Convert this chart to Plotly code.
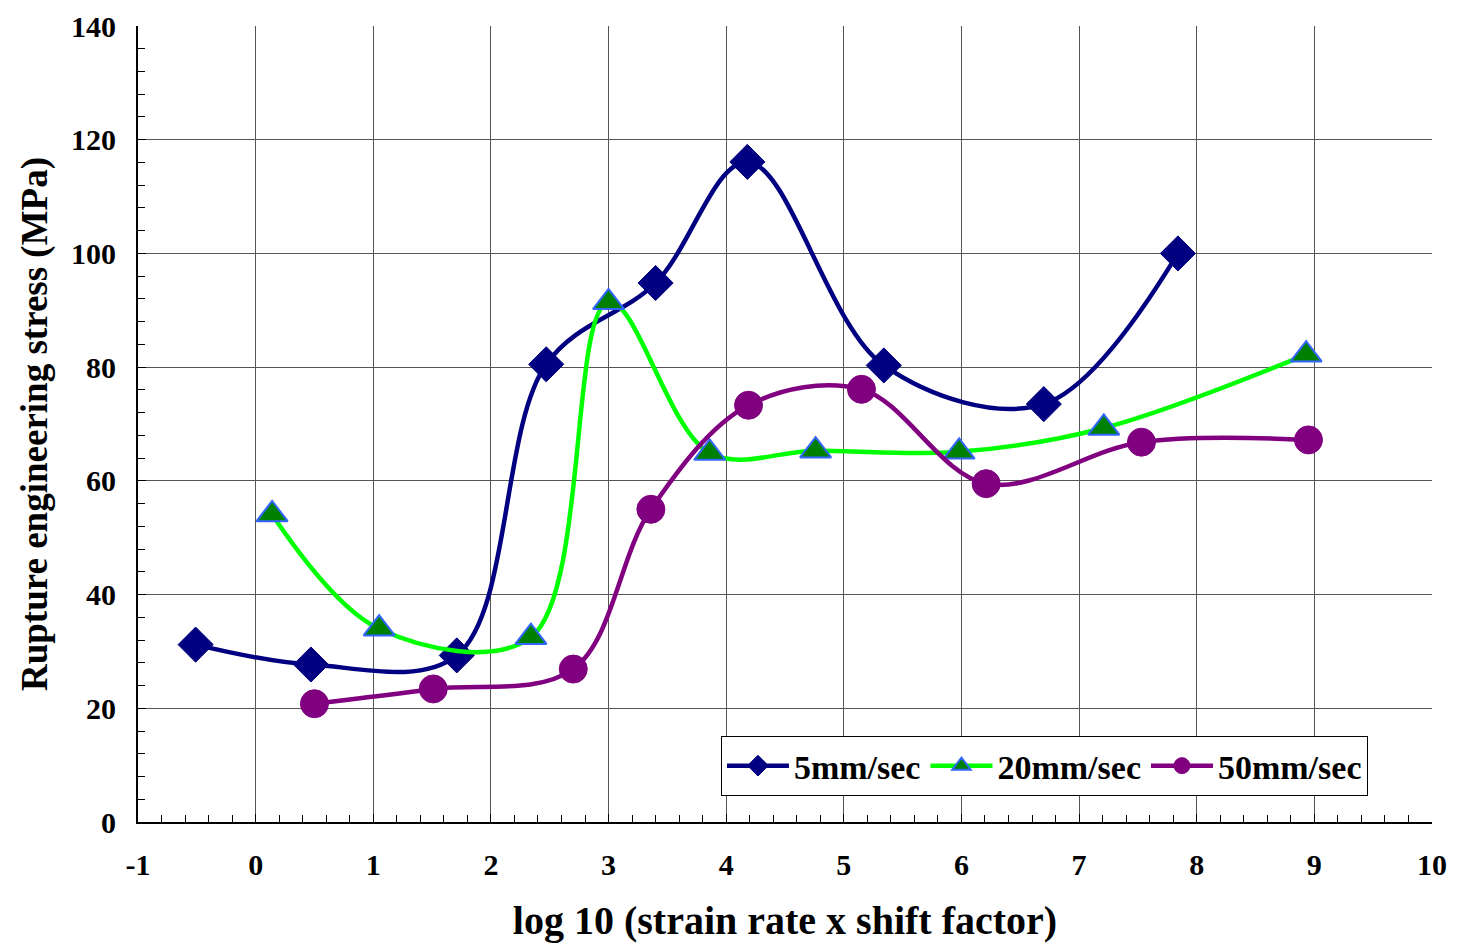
import plotly.graph_objects as go

x5 = [-0.51, 0.47, 1.71, 2.47, 3.40, 4.18, 5.34, 6.70, 7.84]
y5 = [31.2, 27.7, 29.3, 80.5, 94.8, 116.1, 80.3, 73.5, 100.0]

x20 = [0.14, 1.05, 2.34, 3.00, 3.86, 4.76, 5.98, 7.21, 8.93]
y20 = [54.1, 34.0, 32.5, 91.4, 64.9, 65.3, 65.1, 69.3, 82.2]

x50 = [0.50, 1.51, 2.70, 3.36, 4.19, 5.15, 6.21, 7.53, 8.95]
y50 = [20.8, 23.4, 26.9, 55.0, 73.3, 76.1, 59.5, 66.8, 67.2]

xticks = [-1, 0, 1, 2, 3, 4, 5, 6, 7, 8, 9, 10]
xticktext = ["-1", "0", "1", "2", "3", "4", "5", "6", "7", "8", "9", "10"]
yticks = [0, 20, 40, 60, 80, 100, 120, 140]

FONT = "Liberation Serif"

fig = go.Figure()
fig.add_trace(go.Scatter(
    x=x5, y=y5, name="5mm/sec", mode="lines+markers",
    line=dict(color="#000080", width=4.5, shape="spline", smoothing=1.0),
    marker=dict(symbol="diamond", size=27, color="#000080",
                line=dict(color="#000080", width=1))))
fig.add_trace(go.Scatter(
    x=x20, y=y20, name="20mm/sec", mode="lines+markers",
    line=dict(color="#00FF00", width=4.5, shape="spline", smoothing=1.0),
    marker=dict(symbol="triangle-up", size=27, color="#008000",
                line=dict(color="#3366FF", width=2))))
fig.add_trace(go.Scatter(
    x=x50, y=y50, name="50mm/sec", mode="lines+markers",
    line=dict(color="#800080", width=4.5, shape="spline", smoothing=1.0),
    marker=dict(symbol="circle", size=28, color="#800080",
                line=dict(color="#800080", width=1))))

fig.update_layout(
    width=1457, height=950,
    margin=dict(l=130, r=33, t=18, b=136, autoexpand=False),
    plot_bgcolor="white", paper_bgcolor="white",
    font=dict(family=FONT, color="black", size=30, weight="bold"),
    legend=dict(
        orientation="h", x=0.4505, y=0.108, xanchor="left", yanchor="top",
        bgcolor="white", bordercolor="black", borderwidth=1,
        font=dict(family=FONT, size=34, color="black", weight="bold"),
        tracegroupgap=0, itemwidth=62,
    ),
    xaxis=dict(
        range=[-1, 10], tickmode="array", tickvals=xticks, ticktext=xticktext,
        showgrid=True, gridcolor="#555555", gridwidth=1,
        showline=True, linecolor="black", linewidth=2,
        ticks="inside", ticklen=8, tickcolor="black",
        minor=dict(ticks="inside", dtick=0.2, tick0=-1, ticklen=7, tickcolor="black", showgrid=False),
        zeroline=False, automargin=False, ticklabeloverflow="allow",
        ticklabelstandoff=15,
        title=dict(text="log 10 (strain rate x shift factor)",
                   font=dict(family=FONT, size=40, weight="bold"), standoff=26),
    ),
    yaxis=dict(
        range=[0, 140], tickmode="array", tickvals=yticks,
        showgrid=True, gridcolor="#555555", gridwidth=1,
        showline=True, linecolor="black", linewidth=2,
        ticks="inside", ticklen=8, tickcolor="black",
        minor=dict(ticks="inside", dtick=4, tick0=0, ticklen=7, tickcolor="black", showgrid=False),
        zeroline=False, automargin=False, ticklabeloverflow="allow",
        ticklabelstandoff=14,
        title=dict(text="Rupture engineering stress (MPa)",
                   font=dict(family=FONT, size=37, weight="bold"), standoff=12),
    ),
)

fig.write_html("out.html")
